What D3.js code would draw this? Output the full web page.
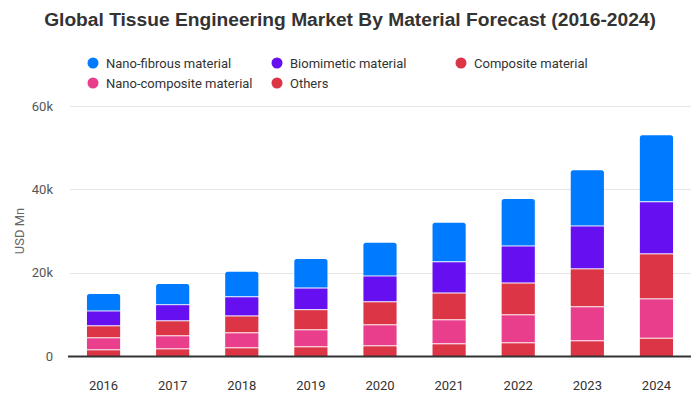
<!DOCTYPE html>
<html>
<head>
<meta charset="utf-8">
<script src="https://cdn.jsdelivr.net/npm/d3@7"></script>
<style>
  html, body { margin: 0; padding: 0; background: #fff; }
  svg { display: block; font-family: Roboto, "Liberation Sans", Arial, sans-serif; }
</style>
</head>
<body>
<svg id="chart" width="700" height="400"></svg>
<script>
const years = ["2016","2017","2018","2019","2020","2021","2022","2023","2024"];
const others        = [1.37, 1.6, 1.85, 2.09, 2.33, 2.81, 3.05, 3.53, 4.15];
const nanoComposite = [2.88, 3.13, 3.6, 4.08, 5.04, 5.76, 6.72, 8.17, 9.45];
const composite     = [2.88, 3.6, 4.05, 4.83, 5.53, 6.43, 7.63, 9.1, 10.8];
const biomimetic    = [3.57, 3.87, 4.6, 5.2, 6.2, 7.5, 8.9, 10.3, 12.5];
const nanoFibrous   = [4.2, 5.1, 6.1, 7.1, 8.1, 9.5, 11.4, 13.5, 16.1];
const yTicks = [0, 20000, 40000, 60000];
const yTickLabels = ["0", "20k", "40k", "60k"];

const seriesNames = ["Others", "Nano-composite material", "Composite material", "Biomimetic material", "Nano-fibrous material"];
const seriesValues = [others, nanoComposite, composite, biomimetic, nanoFibrous];
const seriesColors = ["#dc3545", "#e83e8c", "#dc3545", "#6610f2", "#007bff"];
const legendOrder = ["Nano-fibrous material", "Biomimetic material", "Composite material", "Nano-composite material", "Others"];

const table = years.map((y, i) => {
  const row = { year: y };
  seriesNames.forEach((s, j) => row[s] = seriesValues[j][i] * 1000);
  return row;
});

const svg = d3.select("#chart");
const x = d3.scaleBand().domain(years).range([69, 691]).paddingInner(0.52).paddingOuter(0.26);
const y = d3.scaleLinear().domain([0, 60000]).range([356, 106]);

// gridlines
svg.append("g").selectAll("line").data(yTicks.filter(t => t > 0)).join("line")
  .attr("x1", 70).attr("x2", 691)
  .attr("y1", d => Math.round(y(d)) + 0.5).attr("y2", d => Math.round(y(d)) + 0.5)
  .attr("stroke", "#e6e6e6").attr("stroke-width", 1);

// y axis labels
const yAxis = d3.axisLeft(y).tickValues(yTicks).tickFormat((d, i) => yTickLabels[i]).tickSize(0).tickPadding(0);
const yg = svg.append("g").attr("transform", "translate(53,0)").call(yAxis);
yg.select(".domain").remove();
yg.selectAll("text").attr("fill", "#555").attr("font-size", 13).attr("font-family", "Roboto, Arial, sans-serif");

// y axis title
svg.append("text").attr("transform", "translate(24,231) rotate(-90)")
  .attr("text-anchor", "middle").attr("font-size", 13).attr("fill", "#666").text("USD Mn");

// stacked bars
const stack = d3.stack().keys(seriesNames)(table);
const bw = x.bandwidth();
const r = 2.5;
stack.forEach((layer, li) => {
  const g = svg.append("g").attr("fill", seriesColors[li]);
  const isTop = li === stack.length - 1;
  layer.forEach(d => {
    const x0 = x(d.data.year);
    const yTop = y(d[1]);
    const yBot = y(d[0]) - (li === 0 ? 0 : 1);
    if (isTop) {
      const p = `M${x0},${yBot} L${x0},${yTop + r} Q${x0},${yTop} ${x0 + r},${yTop} L${x0 + bw - r},${yTop} Q${x0 + bw},${yTop} ${x0 + bw},${yTop + r} L${x0 + bw},${yBot} Z`;
      g.append("path").attr("d", p);
    } else {
      g.append("rect").attr("x", x0).attr("y", yTop).attr("width", bw).attr("height", Math.max(0, yBot - yTop));
    }
  });
});

// x axis
svg.append("line").attr("x1", 68).attr("x2", 691).attr("y1", 356.5).attr("y2", 356.5)
  .attr("stroke", "#333").attr("stroke-width", 2);
const xAxis = d3.axisBottom(x).tickSize(0).tickPadding(0);
const xg = svg.append("g").attr("transform", "translate(0,381)").call(xAxis);
xg.select(".domain").remove();
xg.selectAll("text").attr("fill", "#333").attr("font-size", 13).attr("font-family", "Roboto, Arial, sans-serif");

// title
svg.append("text").attr("x", 350).attr("y", 26).attr("text-anchor", "middle")
  .attr("font-size", 19.2).attr("font-weight", "bold").attr("fill", "#333")
  .attr("font-family", "'Liberation Sans', Arial, sans-serif")
  .text("Global Tissue Engineering Market By Material Forecast (2016-2024)");

// legend
const legendPos = [[93, 63], [277, 63], [461, 63], [93, 83], [277, 83]];
legendOrder.forEach((name, i) => {
  const idx = seriesNames.indexOf(name);
  const [lx, ly] = legendPos[i];
  svg.append("circle").attr("cx", lx).attr("cy", ly).attr("r", 5.5).attr("fill", seriesColors[idx]);
  svg.append("text").attr("x", lx + 13).attr("y", ly + 4.5).attr("font-size", 13).attr("fill", "#333").text(name);
});
</script>
</body>
</html>
